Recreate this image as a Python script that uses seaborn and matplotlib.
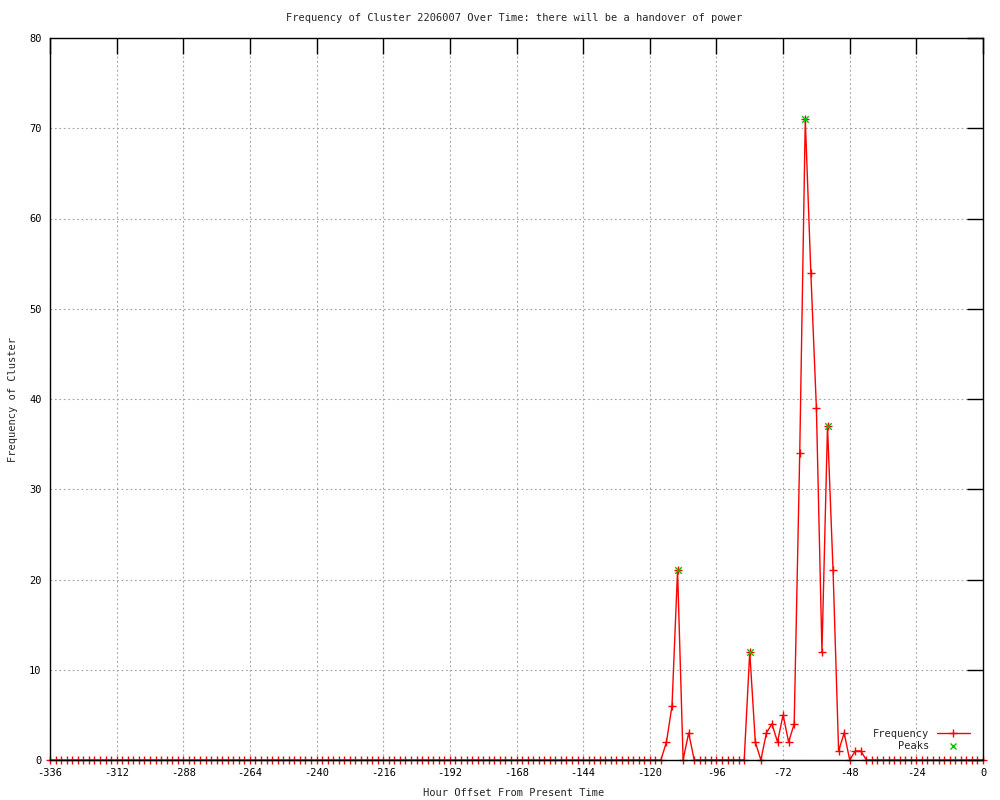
import numpy as np
import pandas as pd
import matplotlib
matplotlib.use("Agg")
import matplotlib.pyplot as plt
import seaborn as sns
from matplotlib.lines import Line2D

# ---- data ----
hours = list(range(-336, 1, 2))
frequency = ([0] * 110
             + [0, 2, 6, 21, 0, 3,
                0, 0, 0, 0, 0, 0, 0, 0, 0, 0,
                12, 2, 0, 3, 4, 2, 5, 2, 4,
                34, 71, 54, 39, 12, 37, 21, 1, 3, 0, 1, 1, 0]
             + [0] * 21)
peak_hours = [-110, -84, -64, -56]
peak_values = [21, 12, 71, 37]

x_ticks = list(range(-336, 1, 24))
y_ticks = list(range(0, 81, 10))

title = "Frequency of Cluster 2206007 Over Time: there will be a handover of power"
x_label = "Hour Offset From Present Time"
y_label = "Frequency of Cluster"

df = pd.DataFrame({"hour": hours, "freq": frequency})
peaks = pd.DataFrame({"hour": peak_hours, "freq": peak_values})

sns.set_style("white")
plt.rcParams["font.family"] = ["DejaVu Sans Mono", "DejaVu Sans"]
plt.rcParams["axes.unicode_minus"] = False
FS = 7.5

fig = plt.figure(figsize=(10, 8), dpi=100)
ax = fig.add_axes([0.05, 0.05, 0.933, 0.9025])

sns.lineplot(data=df, x="hour", y="freq", ax=ax, color="red", linewidth=1.0,
             marker="+", markersize=5.5, markeredgewidth=1.0, markeredgecolor="red",
             clip_on=False, zorder=3, legend=False)
sns.scatterplot(data=peaks, x="hour", y="freq", ax=ax, marker="x", color="#00c000",
                s=22, linewidth=1.0, zorder=4, legend=False, clip_on=False)

ax.set_xlim(-336, 0)
ax.set_ylim(0, 80)
ax.set_xticks(x_ticks)
ax.set_yticks(y_ticks)
ax.tick_params(axis="both", direction="in", length=11.5, width=1.0, color="black",
               top=True, right=True, labelsize=FS, pad=6, labelcolor="black")
ax.grid(True, color="#a0a0a0", linestyle=(0, (1.5, 2.5)), linewidth=0.8)
for sp in ax.spines.values():
    sp.set_color("black")
    sp.set_linewidth(1.0)
    sp.set_zorder(5)

ax.set_xlabel("")
ax.set_ylabel("")
fig.text(0.514, 0.9775, title, ha="center", va="center", fontsize=FS)
fig.text(0.514, 0.009, x_label, ha="center", va="center", fontsize=FS)
fig.text(0.013, 0.5, y_label, ha="center", va="center", rotation=90, fontsize=FS)

handles = [
    Line2D([0], [0], color="red", linewidth=1.0, marker="+", markersize=5.5,
           markeredgewidth=1.0),
    Line2D([0], [0], color="#00c000", linestyle="none", marker="x", markersize=5,
           markeredgewidth=1.0),
]
leg = ax.legend(handles, ["Frequency", "Peaks"], loc="lower right",
                bbox_to_anchor=(0.986, 0.012), frameon=False, markerfirst=False,
                fontsize=FS, handlelength=3.2, handletextpad=0.7,
                labelspacing=0.25, borderpad=0, borderaxespad=0, numpoints=1)

fig.savefig("out.png", dpi=100)
